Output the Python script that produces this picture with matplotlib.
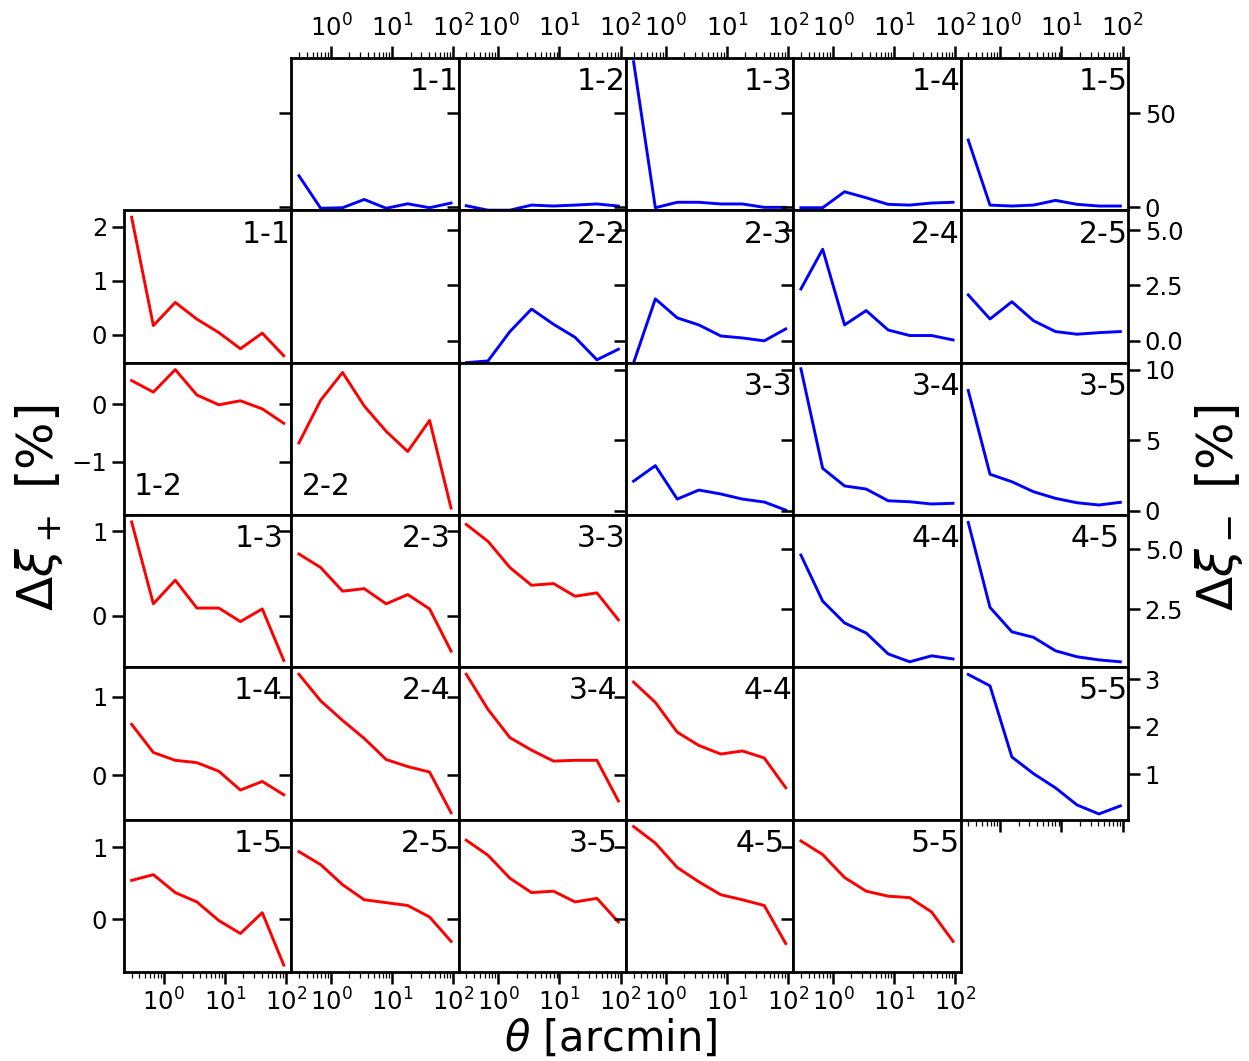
import matplotlib.pyplot as plt

# angular bins [arcmin]
theta = [0.3, 0.68, 1.55, 3.5, 8.0, 18.0, 41.0, 92.0]

# xi_+ residuals [%] (lower triangle, red)
xip_1_1 = [2.18, 0.17, 0.60, 0.29, 0.04, -0.26, 0.03, -0.39]
xip_1_2 = [0.41, 0.21, 0.60, 0.16, -0.01, 0.06, -0.08, -0.33]
xip_2_2 = [-0.67, 0.07, 0.55, -0.03, -0.47, -0.82, -0.28, -1.80]
xip_1_3 = [1.11, 0.14, 0.42, 0.09, 0.09, -0.07, 0.08, -0.53]
xip_2_3 = [0.73, 0.57, 0.29, 0.32, 0.14, 0.25, 0.08, -0.42]
xip_3_3 = [1.08, 0.88, 0.57, 0.36, 0.38, 0.23, 0.27, -0.05]
xip_1_4 = [0.65, 0.29, 0.19, 0.16, 0.05, -0.19, -0.08, -0.25]
xip_2_4 = [1.29, 0.95, 0.70, 0.47, 0.20, 0.11, 0.04, -0.48]
xip_3_4 = [1.29, 0.84, 0.48, 0.32, 0.18, 0.19, 0.19, -0.33]
xip_4_4 = [1.19, 0.93, 0.55, 0.38, 0.27, 0.31, 0.22, -0.16]
xip_1_5 = [0.54, 0.62, 0.37, 0.24, -0.02, -0.20, 0.09, -0.64]
xip_2_5 = [0.94, 0.76, 0.48, 0.27, 0.23, 0.19, 0.03, -0.31]
xip_3_5 = [1.10, 0.89, 0.57, 0.37, 0.39, 0.24, 0.29, -0.04]
xip_4_5 = [1.29, 1.06, 0.72, 0.52, 0.34, 0.27, 0.19, -0.34]
xip_5_5 = [1.09, 0.90, 0.58, 0.39, 0.32, 0.30, 0.10, -0.31]

# xi_- residuals [%] (upper triangle, blue)
xim_1_1 = [16.8, -0.5, -0.2, 4.2, -0.5, 1.9, -0.2, 2.3]
xim_1_2 = [0.85, -1.5, -1.5, 1.2, 0.7, 1.2, 1.8, 0.7]
xim_1_3 = [77.4, -0.2, 2.7, 2.7, 1.8, 1.8, 0.0, 0.0]
xim_1_4 = [-0.2, -0.2, 8.3, 5.1, 1.6, 1.2, 2.3, 2.7]
xim_1_5 = [35.8, 1.2, 0.7, 1.2, 3.7, 1.6, 0.7, 0.7]
xim_2_2 = [-1.0, -0.92, 0.41, 1.43, 0.74, 0.15, -0.87, -0.39]
xim_2_3 = [-1.0, 1.89, 1.03, 0.71, 0.21, 0.12, -0.01, 0.53]
xim_2_4 = [2.34, 4.14, 0.71, 1.36, 0.48, 0.23, 0.23, 0.03]
xim_2_5 = [2.07, 0.98, 1.76, 0.90, 0.41, 0.29, 0.36, 0.41]
xim_3_3 = [2.1, 3.2, 0.83, 1.47, 1.19, 0.83, 0.62, 0.05]
xim_3_4 = [10.07, 3.01, 1.76, 1.54, 0.71, 0.64, 0.48, 0.53]
xim_3_5 = [8.53, 2.59, 2.06, 1.35, 0.88, 0.57, 0.41, 0.60]
xim_4_4 = [4.75, 2.83, 1.92, 1.50, 0.63, 0.30, 0.55, 0.42]
xim_4_5 = [6.11, 2.57, 1.55, 1.32, 0.76, 0.51, 0.38, 0.30]
xim_5_5 = [3.10, 2.86, 1.36, 1.01, 0.71, 0.35, 0.16, 0.33]

xip = {'1-1': xip_1_1, '1-2': xip_1_2, '2-2': xip_2_2, '1-3': xip_1_3, '2-3': xip_2_3,
       '3-3': xip_3_3, '1-4': xip_1_4, '2-4': xip_2_4, '3-4': xip_3_4, '4-4': xip_4_4,
       '1-5': xip_1_5, '2-5': xip_2_5, '3-5': xip_3_5, '4-5': xip_4_5, '5-5': xip_5_5}
xim = {'1-1': xim_1_1, '1-2': xim_1_2, '1-3': xim_1_3, '1-4': xim_1_4, '1-5': xim_1_5,
       '2-2': xim_2_2, '2-3': xim_2_3, '2-4': xim_2_4, '2-5': xim_2_5, '3-3': xim_3_3,
       '3-4': xim_3_4, '3-5': xim_3_5, '4-4': xim_4_4, '4-5': xim_4_5, '5-5': xim_5_5}

# y ticks per row
red_ticks = {1: [0, 1, 2], 2: [-1, 0], 3: [0, 1], 4: [0, 1], 5: [0, 1]}
blue_ticks = {0: [0, 50], 1: [0.0, 2.5, 5.0], 2: [0, 5, 10], 3: [2.5, 5.0], 4: [1, 2, 3]}
blue_ylim = {0: (-1.6, 79.4), 1: (-1.0, 5.9), 2: (-0.3, 10.5), 3: (0.07, 6.42), 4: (0.04, 3.25)}

far_red = ['1-3', '2-3', '1-4', '2-4', '3-4', '1-5', '2-5', '3-5', '4-5']
far_blue = ['4-5']
low_left = ['1-2', '2-2']

fig, axes = plt.subplots(6, 6, figsize=(12.49, 10.61))
fig.subplots_adjust(left=0.0993, right=0.9031, bottom=0.0839, top=0.9453,
                    wspace=0, hspace=0)

for r in range(6):
    first_red = None
    for c in range(6):
        ax = axes[r, c]
        if (r, c) in [(0, 0), (5, 5)]:
            ax.remove()
            continue
        for s in ax.spines.values():
            s.set_linewidth(2)
        ax.set_xscale('log')
        ax.tick_params(which='both', direction='out', bottom=False, top=False,
                       left=False, right=False, labelbottom=False, labeltop=False,
                       labelleft=False, labelright=False)
        ax.tick_params(which='major', length=8.5, width=1.8, labelsize=17.5)
        ax.tick_params(which='minor', length=4, width=0.9)
        if r == c:
            ax.set_xticks([])
            ax.set_yticks([])
            continue

        if c < r:
            pair = f'{c + 1}-{r}'
            if first_red is None:
                first_red = ax
            else:
                ax.sharey(first_red)
            ax.plot(theta, xip[pair], color='r', lw=2.1)
            ax.set_yticks(red_ticks[r])
            ax.tick_params(axis='y', left=True, labelleft=(c == 0))
            if r == 5:
                ax.tick_params(axis='x', which='both', bottom=True, labelbottom=True)
            if pair in low_left:
                ax.text(0.06, 0.13, pair, transform=ax.transAxes, fontsize=21.5,
                        ha='left', va='baseline')
            else:
                xpos = 0.95 if pair in far_red else 0.997
                ax.text(xpos, 0.94, pair, transform=ax.transAxes, fontsize=21.5,
                        ha='right', va='top')
        else:
            pair = f'{r + 1}-{c}'
            ax.plot(theta, xim[pair], color='b', lw=2.1)
            ax.set_ylim(blue_ylim[r])
            ax.set_yticks(blue_ticks[r])
            if c == 5:
                ax.tick_params(axis='y', right=True, labelright=True)
            else:
                ax.tick_params(axis='y', left=True)
            if r == 0:
                ax.tick_params(axis='x', which='both', top=True, labeltop=True)
            elif c == r + 1:
                ax.tick_params(axis='x', which='both', bottom=True)
            xpos = 0.95 if pair in far_blue else 0.997
            ax.text(xpos, 0.94, pair, transform=ax.transAxes, fontsize=21.5,
                    ha='right', va='top')

fig.text(0.031, 0.521, r'$\Delta\xi_+$ [%]', rotation=90, fontsize=36,
         ha='center', va='center')
fig.text(0.976, 0.521, r'$\Delta\xi_-$ [%]', rotation=90, fontsize=36,
         ha='center', va='center')
fig.text(0.489, 0.041, r'$\theta$ [arcmin]', fontsize=30, ha='center', va='top')

fig.savefig('out.png', dpi=100)
